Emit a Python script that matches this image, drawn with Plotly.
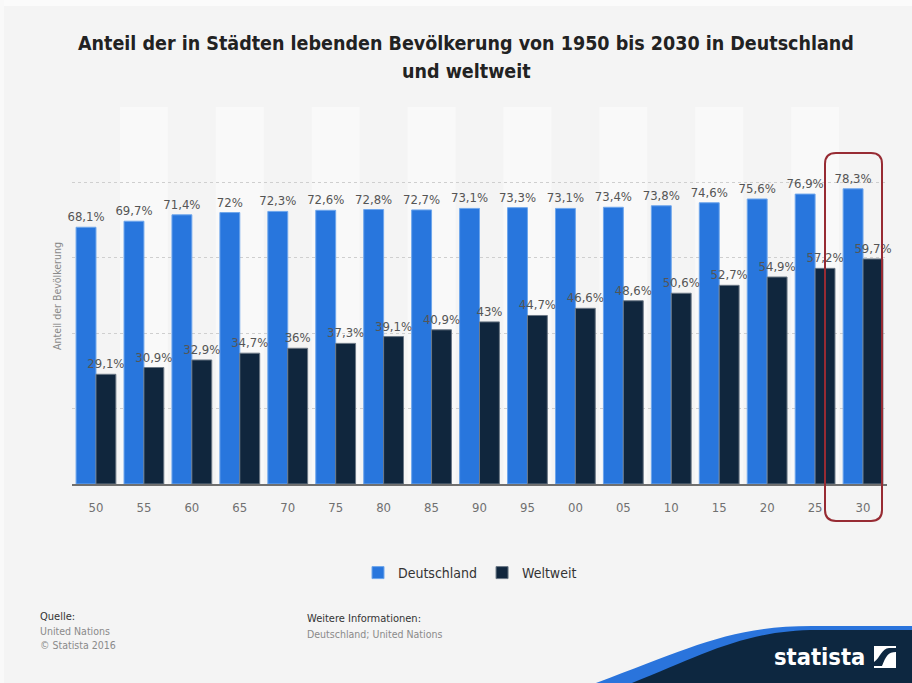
import plotly.graph_objects as go

# ---------------- data ----------------
years = ["50", "55", "60", "65", "70", "75", "80", "85", "90", "95",
         "00", "05", "10", "15", "20", "25", "30"]
deutschland = [68.1, 69.7, 71.4, 72, 72.3, 72.6, 72.8, 72.7, 73.1, 73.3,
               73.1, 73.4, 73.8, 74.6, 75.6, 76.9, 78.3]
weltweit = [29.1, 30.9, 32.9, 34.7, 36, 37.3, 39.1, 40.9, 43, 44.7,
            46.6, 48.6, 50.6, 52.7, 54.9, 57.2, 59.7]
series_names = ["Deutschland", "Weltweit"]
title_lines = ["Anteil der in Städten lebenden Bevölkerung von 1950 bis 2030 in Deutschland",
               "und weltweit"]


def fmt(v):
    return f"{v:g}".replace(".", ",") + "%"


# ---------------- geometry helpers ----------------
W, H = 912, 683
L, R, T, B = 72, 25, 107, 199
PW, PH = W - L - R, H - T - B


def px(x):
    return (x - L) / PW


def py(y):
    return (H - B - y) / PH


def pt(x, y):
    return f"{px(x):.5f},{py(y):.5f}"


FONT = "DejaVu Sans Condensed, DejaVu Sans, sans-serif"

fig = go.Figure()
fig.add_trace(go.Bar(
    name=series_names[0], x=years, y=deutschland,
    text=[fmt(v) for v in deutschland], textposition="outside",
    marker=dict(color="#2876dd", line=dict(color="#6ea6ec", width=1)),
    textfont=dict(color="#555555", size=13, family=FONT),
    cliponaxis=False,
))
fig.add_trace(go.Bar(
    name=series_names[1], x=years, y=weltweit,
    text=[fmt(v) for v in weltweit], textposition="outside",
    marker=dict(color="#10263d", line=dict(color="#6b7886", width=1)),
    textfont=dict(color="#555555", size=13, family=FONT),
    cliponaxis=False,
))

shapes = []
# alternating column bands
for i in range(len(years)):
    if i % 2 == 1:
        shapes.append(dict(type="rect", xref="x", yref="paper", x0=i - 0.5, x1=i + 0.5,
                           y0=0, y1=1, fillcolor="#f9f9f9", line=dict(width=0), layer="below"))


def rrect(x0, y0, x1, y1, r):
    return ("M " + pt(x0 + r, y0) + " L " + pt(x1 - r, y0) +
            " Q " + pt(x1, y0) + " " + pt(x1, y0 + r) +
            " L " + pt(x1, y1 - r) +
            " Q " + pt(x1, y1) + " " + pt(x1 - r, y1) +
            " L " + pt(x0 + r, y1) +
            " Q " + pt(x0, y1) + " " + pt(x0, y1 - r) +
            " L " + pt(x0, y0 + r) +
            " Q " + pt(x0, y0) + " " + pt(x0 + r, y0) + " Z")


# highlight box around last category
shapes.append(dict(type="path", xref="paper", yref="paper",
                   path=rrect(825, 153, 882, 521, 11),
                   line=dict(color="#972b33", width=2)))

# statista logo background
shapes.append(dict(type="path", xref="paper", yref="paper",
                   path="M " + pt(596, 683) + " C " + pt(690, 648) + " " + pt(730, 626) + " " + pt(812, 626) +
                        " L " + pt(912, 626) + " L " + pt(912, 683) + " Z",
                   fillcolor="#2a74dc", line=dict(width=0)))
shapes.append(dict(type="path", xref="paper", yref="paper",
                   path="M " + pt(632, 683) + " C " + pt(705, 654) + " " + pt(745, 630) + " " + pt(818, 630) +
                        " L " + pt(912, 630) + " L " + pt(912, 683) + " Z",
                   fillcolor="#0d2740", line=dict(width=0)))
# logo icon
shapes.append(dict(type="rect", xref="paper", yref="paper",
                   x0=px(874), x1=px(896), y0=py(668), y1=py(646),
                   fillcolor="#ffffff", line=dict(width=0)))
shapes.append(dict(type="path", xref="paper", yref="paper",
                   path="M " + pt(874, 666) + " L " + pt(882, 666) + " C " + pt(886, 656) + " " + pt(888, 652) +
                        " " + pt(896, 652) + " L " + pt(896, 648) + " L " + pt(889, 648) +
                        " C " + pt(882, 648) + " " + pt(880, 658) + " " + pt(874, 662) + " Z",
                   fillcolor="#0d2740", line=dict(width=0)))
# soft card edge
shapes.append(dict(type="rect", xref="paper", yref="paper",
                   x0=px(0), x1=px(912), y0=py(6), y1=py(0),
                   fillcolor="#fbfbfb", line=dict(width=0)))
shapes.append(dict(type="rect", xref="paper", yref="paper",
                   x0=px(0), x1=px(4), y0=py(683), y1=py(0),
                   fillcolor="#f9f9f9", line=dict(width=0)))

annotations = [
    dict(text="<b>" + title_lines[0] + "</b>", x=px(466), y=py(43), xref="paper", yref="paper",
         showarrow=False, xanchor="center", yanchor="middle",
         font=dict(family=FONT, size=19.5, color="#222222")),
    dict(text="<b>" + title_lines[1] + "</b>", x=px(466), y=py(71), xref="paper", yref="paper",
         showarrow=False, xanchor="center", yanchor="middle",
         font=dict(family=FONT, size=19.5, color="#222222")),
    dict(text="Anteil der Bevölkerung", x=px(57), y=py(296), xref="paper", yref="paper",
         showarrow=False, textangle=-90, xanchor="center", yanchor="middle",
         font=dict(family=FONT, size=10.5, color="#8a8a8a")),
    dict(text="Quelle:", x=px(38), y=py(616), xref="paper", yref="paper",
         showarrow=False, xanchor="left", yanchor="middle",
         font=dict(family=FONT, size=11, color="#333333")),
    dict(text="United Nations", x=px(38), y=py(631), xref="paper", yref="paper",
         showarrow=False, xanchor="left", yanchor="middle",
         font=dict(family=FONT, size=10.5, color="#8a8a8a")),
    dict(text="© Statista 2016", x=px(38), y=py(645), xref="paper", yref="paper",
         showarrow=False, xanchor="left", yanchor="middle",
         font=dict(family=FONT, size=10.5, color="#8a8a8a")),
    dict(text="Weitere Informationen:", x=px(305), y=py(618), xref="paper", yref="paper",
         showarrow=False, xanchor="left", yanchor="middle",
         font=dict(family=FONT, size=11, color="#333333")),
    dict(text="Deutschland; United Nations", x=px(305), y=py(634), xref="paper", yref="paper",
         showarrow=False, xanchor="left", yanchor="middle",
         font=dict(family=FONT, size=10.5, color="#8a8a8a")),
    dict(text="<b>statista</b>", x=px(867), y=py(657), xref="paper", yref="paper",
         showarrow=False, xanchor="right", yanchor="middle",
         font=dict(family=FONT, size=23.5, color="#ffffff")),
]

fig.update_layout(
    width=W, height=H,
    margin=dict(l=L, r=R, t=T, b=B, pad=0),
    paper_bgcolor="#f4f4f4", plot_bgcolor="#f4f4f4",
    barmode="group", bargap=0.17, bargroupgap=0,
    showlegend=True,
    legend=dict(orientation="h", x=px(470), xanchor="center", y=py(573), yanchor="middle",
                font=dict(family=FONT, size=14, color="#333333"),
                bgcolor="rgba(0,0,0,0)", itemwidth=30),
    xaxis=dict(type="category", showgrid=False, showline=True, linecolor="#6f6f6f", linewidth=2,
               ticks="", tickfont=dict(family=FONT, size=13, color="#707070"),
               ticklabelstandoff=10, fixedrange=True),
    yaxis=dict(range=[0, 100], dtick=20, showticklabels=False, showgrid=True,
               gridcolor="#cfcfcf", griddash="dot", gridwidth=1, zeroline=False,
               showline=False, fixedrange=True),
    shapes=shapes,
    annotations=annotations,
    font=dict(family=FONT),
)
fig.update_traces(constraintext="none")

fig.write_html("out.html", config={"displayModeBar": False},
               post_script="document.body.style.margin='0';")
